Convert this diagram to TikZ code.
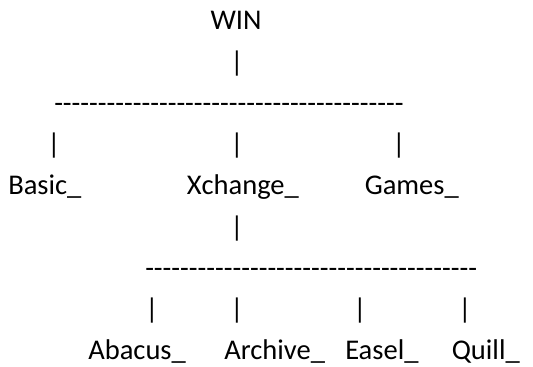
\documentclass[tikz,border=0pt]{standalone}
\usepackage{fontspec}
\setmainfont{Carlito}[Ligatures=TeXOff]
\begin{document}
\begin{tikzpicture}[x=0.75pt, y=-0.75pt,
    label/.style={inner sep=0pt, anchor=base west, font=\fontsize{21.4}{26}\selectfont},
    stem/.style={inner sep=0pt, anchor=base, font=\fontsize{21.4}{26}\selectfont}]
    \useasboundingbox (0,0) rectangle (533,367);

    % Root
    \node[stem] (win) at (236,30) {WIN};
    \node[stem] (winStem) at (237,71.25) {|};
    \node[label] (topRule) at (54,112.5) {----------------------------------------};

    % First level
    \node[stem] (basicStem) at (54,153.75) {|};
    \node[stem] (xchangeStem) at (237,153.75) {|};
    \node[stem] (gamesStem) at (399,153.75) {|};
    \node[label] (basic) at (8,195) {Basic\_};
    \node[label] (xchange) at (186.5,195) {Xchange\_};
    \node[label] (games) at (364.5,195) {Games\_};

    % Below Xchange
    \node[stem] (xchangeDown) at (237,236.25) {|};
    \node[label] (subRule) at (145,277.5) {--------------------------------------};

    % Second level
    \node[stem] (abacusStem) at (152,318.75) {|};
    \node[stem] (archiveStem) at (237,318.75) {|};
    \node[stem] (easelStem) at (360,318.75) {|};
    \node[stem] (quillStem) at (465,318.75) {|};
    \node[label] (abacus) at (88,360) {Abacus\_};
    \node[label] (archive) at (224,360) {Archive\_};
    \node[label] (easel) at (345,360) {Easel\_};
    \node[label] (quill) at (451.5,360) {Quill\_};
\end{tikzpicture}
\end{document}
